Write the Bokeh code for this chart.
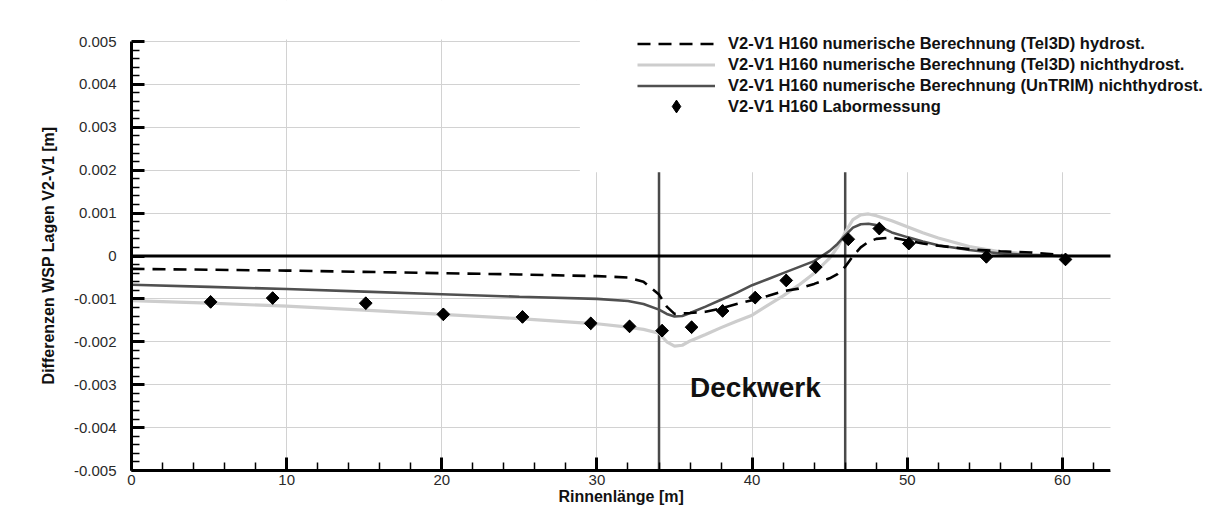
import math
from bokeh.plotting import figure
from bokeh.models import (Range1d, FixedTicker, CustomJSTickFormatter, Span, Label,
                          Legend, LegendItem, ColumnDataSource, BoxAnnotation)
from bokeh.embed import file_html
from bokeh.resources import INLINE

# ---------------- data ----------------
x_calc = [0, 5, 10, 15, 20, 25, 30, 32, 33, 34, 34.5, 35, 35.5, 36, 37, 38, 39, 40, 41, 42,
          43, 44, 45, 45.5, 46, 46.5, 47, 47.5, 48, 49, 50, 51, 52, 54, 56, 58, 60]

tel3d_hydrost = [-0.00030, -0.00032, -0.00034, -0.00037, -0.00040, -0.00043, -0.00047, -0.00050,
                 -0.00060, -0.00090, -0.00118, -0.00135, -0.00134, -0.00133, -0.00130, -0.00122,
                 -0.00112, -0.00103, -0.00093, -0.00082, -0.00076, -0.00065, -0.00052, -0.00042,
                 -0.00025, 0.00000, 0.00020, 0.00033, 0.00040, 0.00043, 0.00036, 0.00029,
                 0.00024, 0.00016, 0.00011, 0.00008, 0.00002]

tel3d_nichthydrost = [-0.00104, -0.00110, -0.00117, -0.00126, -0.00136, -0.00146, -0.00158, -0.00166,
                      -0.00171, -0.00180, -0.00200, -0.00210, -0.00208, -0.00198, -0.00183, -0.00167,
                      -0.00152, -0.00138, -0.00115, -0.00093, -0.00068, -0.00040, -0.00005, 0.00020,
                      0.00055, 0.00085, 0.00096, 0.00098, 0.00094, 0.00082, 0.00068, 0.00054,
                      0.00042, 0.00022, 0.00010, 0.00004, 0.00000]

untrim_nichthydrost = [-0.00067, -0.00072, -0.00077, -0.00083, -0.00089, -0.00095, -0.00100, -0.00105,
                       -0.00112, -0.00125, -0.00135, -0.00141, -0.00140, -0.00133, -0.00118, -0.00102,
                       -0.00086, -0.00068, -0.00054, -0.00040, -0.00026, -0.00012, 0.00012, 0.00028,
                       0.00048, 0.00066, 0.00074, 0.00075, 0.00072, 0.00055, 0.00044, 0.00034,
                       0.00025, 0.00014, 0.00006, 0.00002, 0.00000]

x_lab = [5.1, 9.1, 15.1, 20.1, 25.2, 29.6, 32.1, 34.2, 36.1, 38.1, 40.2, 42.2, 44.1, 46.2,
         48.2, 50.1, 55.1, 60.2]
labormessung = [-0.00107, -0.00098, -0.00110, -0.00136, -0.00142, -0.00157, -0.00164, -0.00174,
                -0.00166, -0.00128, -0.00097, -0.00057, -0.00026, 0.00039, 0.00064, 0.00029,
                -0.00002, -0.00008]

deckwerk_bounds = [34, 46]
deckwerk_y = [-0.005, 0.002]

x_major = [0, 10, 20, 30, 40, 50, 60]
x_minor = [2, 4, 6, 8, 12, 14, 16, 18, 22, 24, 26, 28, 32, 34, 36, 38, 42, 44, 46, 48,
           52, 54, 56, 58, 62]
y_major = [-0.005, -0.004, -0.003, -0.002, -0.001, 0.0, 0.001, 0.002, 0.003, 0.004, 0.005]
y_minor = [round(-0.005 + 0.0002 * i, 4) for i in range(51) if i % 5 != 0]

x_min, x_axis_end = 0, 63.1
y_min, y_axis_end = -0.005, 0.005

legend_labels = [
    "V2-V1 H160 numerische Berechnung (Tel3D) hydrost.",
    "V2-V1 H160 numerische Berechnung (Tel3D) nichthydrost.",
    "V2-V1 H160 numerische Berechnung (UnTRIM) nichthydrost.",
    "V2-V1 H160 Labormessung",
]
x_label = "Rinnenlänge [m]"
y_label = "Differenzen WSP Lagen V2-V1 [m]"
annotation_text = "Deckwerk"

# ---------------- layout ----------------
FONT = "Liberation Sans"
W, H = 1208, 507
B_LEFT, B_BOTTOM = 131, 37
AXIS_TOP = 41                          # pixel row of y = 0.005
axis_w = 979                           # pixel length of the x axis (0 .. 63.1)
axis_h = H - B_BOTTOM - AXIS_TOP       # pixel length of the y axis
frame_w = W - B_LEFT                   # frame reaches the right and top edges (legend is not clipped)
frame_h = H - B_BOTTOM
x_per_px = (x_axis_end - x_min) / axis_w
y_per_px = (y_axis_end - y_min) / axis_h
x_frame_end = x_min + frame_w * x_per_px
y_frame_end = y_min + frame_h * y_per_px

p = figure(width=W, height=H, x_range=Range1d(x_min, x_frame_end),
           y_range=Range1d(y_min, y_frame_end),
           output_backend="svg", toolbar_location=None,
           min_border_left=B_LEFT, min_border_right=0, min_border_top=0,
           min_border_bottom=B_BOTTOM)
p.outline_line_color = None
p.background_fill_color = "white"
p.border_fill_color = "white"

# grid
p.xgrid.ticker = FixedTicker(ticks=x_major)
p.ygrid.ticker = FixedTicker(ticks=y_major)
p.grid.grid_line_color = "#d2d2d2"
p.grid.grid_line_width = 1

# axes with inward ticks
p.xaxis.ticker = FixedTicker(ticks=x_major, minor_ticks=x_minor)
p.yaxis.ticker = FixedTicker(ticks=y_major, minor_ticks=y_minor)
p.xaxis.bounds = (x_min, x_axis_end)
p.yaxis.bounds = (y_min, y_axis_end)
p.yaxis.formatter = CustomJSTickFormatter(code="""
    if (Math.abs(tick) < 1e-12) { return "0"; }
    return tick.toFixed(3);
""")
for ax in (p.xaxis[0], p.yaxis[0]):
    ax.axis_line_width = 3
    ax.axis_line_color = "black"
    ax.major_tick_in = 13
    ax.major_tick_out = 0
    ax.major_tick_line_width = 3
    ax.major_tick_line_color = "black"
    ax.minor_tick_in = 8
    ax.minor_tick_out = 0
    ax.minor_tick_line_width = 1.5
    ax.minor_tick_line_color = "black"
    ax.major_label_text_font = FONT
    ax.major_label_text_font_size = "15px"
    ax.major_label_text_color = "#2a2a2a"
    ax.axis_label_text_font = FONT
    ax.axis_label_text_font_size = "16px"
    ax.axis_label_text_font_style = "bold"
    ax.axis_label_text_color = "#111111"

# trailing no-break spaces keep the axis titles centred on the drawn axes
p.xaxis.axis_label = x_label + "\u00a0" * 22
p.yaxis.axis_label = y_label + "\u00a0" * 9
p.xaxis.major_label_standoff = 4
p.xaxis.axis_label_standoff = 0
p.yaxis.major_label_standoff = 15
p.yaxis.axis_label_standoff = 14

# Deckwerk bounds
p.segment(x0=deckwerk_bounds, x1=deckwerk_bounds,
          y0=[deckwerk_y[0]] * len(deckwerk_bounds), y1=[deckwerk_y[1]] * len(deckwerk_bounds),
          line_color="#4a4a4a", line_width=2.5)

# lines
src = ColumnDataSource(dict(x=x_calc, h=tel3d_hydrost, n=tel3d_nichthydrost, u=untrim_nichthydrost))
r_light = p.line("x", "n", source=src, line_color="#cdcdcd", line_width=3.2)
r_dark = p.line("x", "u", source=src, line_color="#505050", line_width=2.6)
r_dash = p.line("x", "h", source=src, line_color="black", line_width=2.6, line_dash="13 8")
r_lab_legend = p.scatter(x=x_lab, y=labormessung, marker="diamond", size=12,
                         fill_color="black", line_color="black")
r_lab = p.scatter(x=x_lab, y=labormessung, marker="square", angle=math.pi / 4, size=9,
                  fill_color="black", line_color="black")

# zero line
p.add_layout(Span(location=0, dimension="width", line_color="black", line_width=3))

p.add_layout(Label(x=36.0, y=-0.00306, text=annotation_text, text_font=FONT,
                   text_font_size="28px", text_font_style="bold", text_color="#111111",
                   text_baseline="alphabetic"))

# white areas outside the drawn axes, and the white legend panel
WHITE = dict(fill_color="white", fill_alpha=1, line_color=None, line_alpha=0)
p.add_layout(BoxAnnotation(left=x_axis_end, right=x_frame_end + 1, bottom=y_min - 0.001,
                           top=y_frame_end + 0.001, **WHITE))
p.add_layout(BoxAnnotation(left=x_min + 2 * x_per_px, right=x_frame_end + 1,
                           bottom=y_axis_end + 2 * y_per_px, top=y_frame_end + 0.001, **WHITE))
p.add_layout(BoxAnnotation(left=28.9, right=x_frame_end + 1, bottom=0.00195,
                           top=y_frame_end + 0.001, **WHITE))

def make_legend(items, glyph_h, loc):
    lg = Legend(items=items, location=loc)
    lg.padding = 0
    lg.margin = 0
    lg.spacing = 0
    lg.glyph_width = 78
    lg.glyph_height = glyph_h
    lg.label_height = glyph_h
    lg.label_standoff = 13
    lg.label_text_font = FONT
    lg.label_text_font_size = "16.5px"
    lg.label_text_font_style = "bold"
    lg.label_text_color = "#111111"
    lg.background_fill_alpha = 0
    lg.border_line_color = None
    return lg

legend_lines = make_legend([
    LegendItem(label=legend_labels[0], renderers=[r_dash]),
    LegendItem(label=legend_labels[1], renderers=[r_light]),
    LegendItem(label=legend_labels[2], renderers=[r_dark]),
], 21, (506, 374))
legend_marker = make_legend([
    LegendItem(label=legend_labels[3], renderers=[r_lab_legend]),
], 32, (506, 348))
p.add_layout(legend_lines)
p.add_layout(legend_marker)

open("out.html", "w").write(file_html(p, INLINE))
